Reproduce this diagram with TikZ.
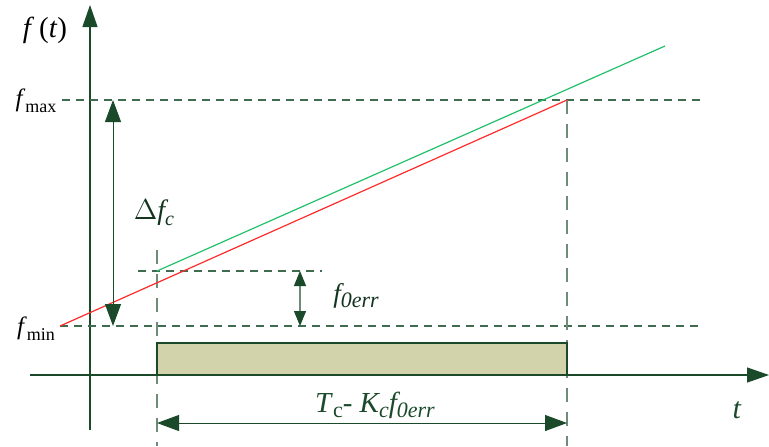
\documentclass[tikz,border=0pt]{standalone}
\usepackage{fontspec}
\setmainfont{Liberation Serif}
\usepackage{tikz}
\usetikzlibrary{positioning,arrows.meta}
\definecolor{axisgreen}{HTML}{1B4A2A}
\definecolor{dashgreen}{HTML}{3F6B4F}
\definecolor{dashgrey}{HTML}{6F8C7B}
\definecolor{barfill}{HTML}{D3D3AB}
\definecolor{chirpred}{HTML}{FF2A2A}
\definecolor{chirpgreen}{HTML}{22C06A}
\tikzset{
  figaxis/.style={axisgreen, line width=0.6pt, -{Triangle[length=11pt, width=7.5pt]}},
  figdash/.style={dashgreen, line width=0.6pt, dash pattern=on 4pt off 3pt},
  figvdash/.style={dashgrey, line width=0.7pt, dash pattern=on 7pt off 5pt},
  figlabel/.style={font=\fontsize{12.5}{14}\selectfont, inner sep=1pt},
}

\begin{document}
\begin{tikzpicture}[x=0.5pt, y=-0.5pt,
    dimarrow/.style={axisgreen, line width=0.5pt, {Triangle[length=11pt, width=8pt]}-{Triangle[length=11pt, width=8pt]}},
    smallarrow/.style={dashgrey, line width=0.6pt, {Triangle[length=7.5pt, width=6pt, color=axisgreen]}-{Triangle[length=7.5pt, width=6pt, color=axisgreen]}}]
  \useasboundingbox (0,0) rectangle (769,446);
  % points
  \coordinate (o) at (90,375);
  \coordinate (ytop) at (90,5);
  \coordinate (ybot) at (90,430);
  \coordinate (xleft) at (30,375);
  \coordinate (xright) at (769,375);
  \coordinate (maxl) at (62,100);
  \coordinate (maxr) at (705,100);
  \coordinate (minl) at (60,326);
  \coordinate (minr) at (700,326);
  \coordinate (rend) at (567,100);
  \coordinate (gstart) at (157,271);
  \coordinate (gend) at (665,46);
  \coordinate (errl) at (138,271);
  \coordinate (errr) at (322,271);
  % axes
  \draw[figaxis] (ybot) -- (ytop);
  \draw[figaxis] (xleft) -- (xright);
  % limits
  \draw[figdash] (maxl) -- (maxr);
  \draw[figdash] (minl) -- (minr);
  \draw[figdash] (errl) -- (errr);
  \draw[figvdash] (157,250) coordinate (v1) -- (157,446) coordinate (v1b);
  \draw[figvdash] (rend) -- (567,446) coordinate (v2b);
  % bar
  \draw[axisgreen, line width=0.6pt, fill=barfill] (157,343) rectangle (567,375);
  % chirps
  \draw[chirpred, line width=0.6pt] (minl) -- (rend);
  \draw[chirpgreen, line width=0.6pt] (gstart) -- (gend);
  % arrows
  \draw[dimarrow] (113,100) coordinate (d1) -- (113,326) coordinate (d2);
  \draw[smallarrow] (300,271) coordinate (e1) -- (300,326) coordinate (e2);
  \draw[dimarrow] (157,423) coordinate (b1) -- (567,423) coordinate (b2);
  % labels
  \node[figlabel] (ft) at (45,30) {\fontsize{14.5}{16}\selectfont\textit{f}\,(\textit{t})};
  \node[figlabel] (fmax) at (36,101) {\textit{f}\raisebox{-0.55ex}{\fontsize{9}{10}\selectfont max}};
  \node[figlabel] (fmin) at (36,329) {\textit{f}\raisebox{-0.55ex}{\fontsize{9}{10}\selectfont min}};
  \node[figlabel, axisgreen!70!black] (df) at (154,213) {\fontsize{14}{16}\selectfont$\Delta$\textit{f\raisebox{-0.5ex}{\fontsize{10}{11}\selectfont c}}};
  \node[figlabel, axisgreen!70!black] (ferr) at (356,296) {\fontsize{13.5}{15}\selectfont\textit{f\raisebox{-0.4ex}{\fontsize{11}{12}\selectfont 0err}}};
  \node[figlabel, axisgreen] (tlab) at (375,405) {\fontsize{14.5}{16}\selectfont\textit{T}\raisebox{-0.4ex}{\fontsize{11}{12}\selectfont c}- \textit{K\raisebox{-0.4ex}{\fontsize{11}{12}\selectfont c}f\raisebox{-0.4ex}{\fontsize{11}{12}\selectfont 0err}}};
  \node[figlabel, axisgreen] (t) at (737,410) {\fontsize{15}{17}\selectfont\textit{t}};
\end{tikzpicture}
\end{document}
